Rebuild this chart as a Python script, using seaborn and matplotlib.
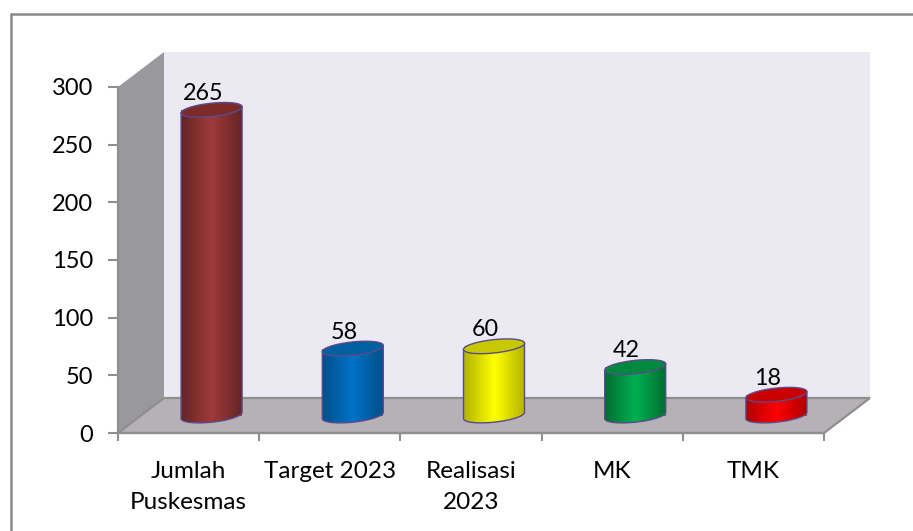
import numpy as np
import pandas as pd
import matplotlib
matplotlib.use("Agg")
import matplotlib.pyplot as plt
from matplotlib.colors import LinearSegmentedColormap
from matplotlib.patches import Polygon, Rectangle
import seaborn as sns

categories = ["Jumlah\nPuskesmas", "Target 2023", "Realisasi\n2023", "MK", "TMK"]
values = [265, 58, 60, 42, 18]
y_ticks = [0, 50, 100, 150, 200, 250, 300]

# colours: edge of cylinder, middle of cylinder, top cap
dark_colors = ["#652525", "#00508a", "#b4b400", "#006e32", "#b00000"]
mid_colors = ["#a03a3a", "#0072c8", "#ffff00", "#00b050", "#ff0000"]
cap_colors = ["#7c2b2b", "#005f9e", "#c8c800", "#00883e", "#c80000"]
line_color = "#5b4a8c"
gray = "#8f8f8f"

sns.set_style("white")
plt.rcParams["font.family"] = ["Lato", "DejaVu Sans"]

W, H = 913, 531
fig = plt.figure(figsize=(W / 100, H / 100), dpi=100)

# outer frame of the chart, only top and left are inside the picture
fig.add_artist(Rectangle((11 / W, -0.1), 1.1, 1.1 - 14 / H, transform=fig.transFigure,
                         fill=False, edgecolor="#8a8a8a", linewidth=1.8))

ax = fig.add_axes([118 / W, (H - 433) / H, 706 / W, 346 / H])
ax.patch.set_alpha(0)

df = pd.DataFrame({"category": categories, "value": values})
sns.barplot(data=df, x="category", y="value", hue="category", palette=mid_colors,
            width=0.432, legend=False, ax=ax, linewidth=0, zorder=3)

# depth of the fake 3d box, in data units
dx = 46 / 141.2
dy = 35 / (346 / 300)
cap_b = 5.8
cap_tilt = 2.7

x0, x1, y0, y1 = -0.5, 4.5, 0, 300

# back wall, side wall, floor
ax.add_patch(Polygon([(x0 + dx, y0 + dy), (x1 + dx, y0 + dy), (x1 + dx, y1 + dy), (x0 + dx, y1 + dy)],
                     closed=True, facecolor="#ebe9f1", edgecolor="none", clip_on=False, zorder=0))
ax.add_patch(Polygon([(x0, y0), (x0 + dx, y0 + dy), (x0 + dx, y1 + dy), (x0, y1)],
                     closed=True, facecolor="#99989c", edgecolor="none", clip_on=False, zorder=0.5))
ax.add_patch(Polygon([(x0, y0), (x0 + dx, y0 + dy), (x1 + dx, y0 + dy), (x1, y0)],
                     closed=True, facecolor="#b5b1b5", edgecolor=gray, linewidth=1.6,
                     clip_on=False, zorder=0.5))

t = np.linspace(0, 2 * np.pi, 121)
for bar, val, dark, mid, cap in zip(ax.patches, values, dark_colors, mid_colors, cap_colors):
    bar.set_x(bar.get_x() + dx / 2)
    bar.set_y(dy / 2)
    x, w = bar.get_x(), bar.get_width()
    cx = x + w / 2
    base = bar.get_y()
    top = base + bar.get_height()
    ex = cx + w / 2 * np.cos(t)

    # body outline: straight sides plus lower half of the base ellipse
    half = t[60:121]
    low_x = cx + w / 2 * np.cos(half)
    low_y = base + cap_b * np.sin(half) + cap_tilt * np.cos(half)
    body = np.column_stack([np.r_[low_x, x + w, x], np.r_[low_y, top + cap_tilt, top - cap_tilt]])
    outline = Polygon(body, closed=True, facecolor="none", edgecolor=line_color,
                      linewidth=1.0, clip_on=False, zorder=5)
    ax.add_patch(outline)

    cmap = LinearSegmentedColormap.from_list("cyl", [dark, mid, dark])
    img = ax.imshow(np.linspace(0, 1, 64)[None, :], cmap=cmap, aspect="auto",
                    extent=(x, x + w, base - cap_b - cap_tilt, top + cap_tilt),
                    zorder=4, clip_on=True)
    img.set_clip_path(outline)

    # top cap
    ey = top + cap_b * np.sin(t) + cap_tilt * np.cos(t)
    ax.add_patch(Polygon(np.column_stack([ex, ey]), closed=True, facecolor=cap,
                         edgecolor=line_color, linewidth=1.0, clip_on=False, zorder=6))

    ax.text(cx - 0.06, top + 8.5, str(val), ha="center", va="baseline", fontsize=16.8,
            color="black", zorder=7)

ax.set_xlim(x0, x1)
ax.set_ylim(y0, y1)
ax.set_xlabel("")
ax.set_ylabel("")
ax.set_yticks(y_ticks)
ax.set_xticks(range(len(categories)))
ax.set_xticklabels(categories, linespacing=1.55)
ax.set_xticks(np.arange(x0, x1 + 0.5), minor=True)
ax.tick_params(axis="x", which="major", length=0, pad=20.5, labelsize=17.5, labelcolor="black")
ax.tick_params(axis="x", which="minor", length=5.5, width=1.5, color=gray, bottom=True)
ax.tick_params(axis="y", which="major", length=7, width=1.5, color=gray, pad=11,
               labelsize=17, labelcolor="black", left=True)

sns.despine(ax=ax, top=True, right=True)
for side in ["left", "bottom"]:
    ax.spines[side].set_color(gray)
    ax.spines[side].set_linewidth(1.6)

fig.savefig("out.png", dpi=100)
